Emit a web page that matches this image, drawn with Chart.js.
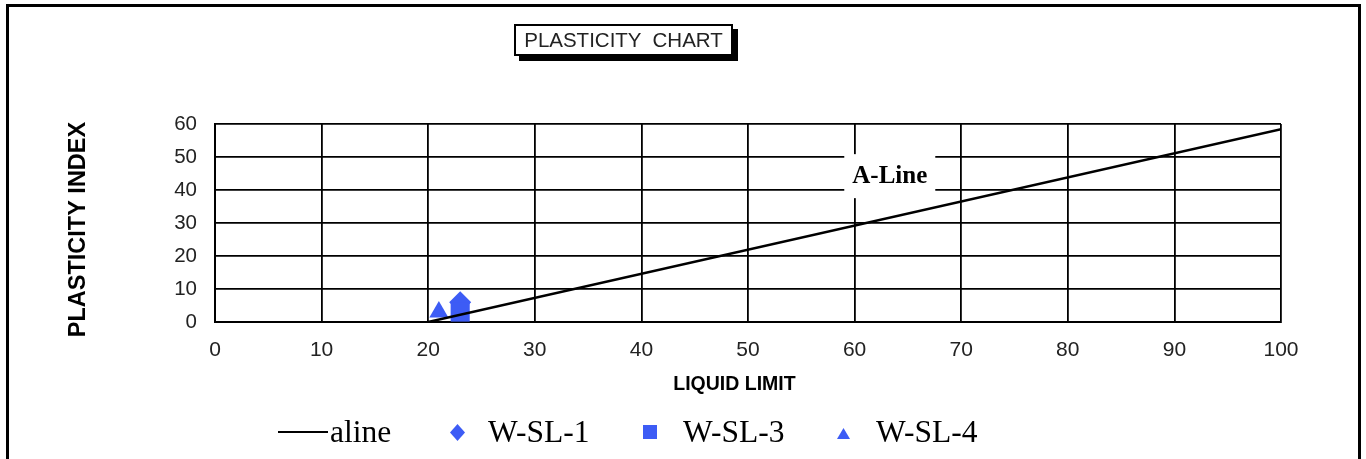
<!DOCTYPE html>
<html>
<head>
<meta charset="utf-8">
<script src="https://cdn.jsdelivr.net/npm/chart.js@4"></script>
<style>
  html, body { margin: 0; padding: 0; background: #fff; }
  #wrap { position: relative; width: 1366px; height: 459px; overflow: hidden; }
  #frame { position: absolute; left: 6px; top: 4px; width: 1355px; height: 470px;
    border: 3px solid #000; border-bottom: none; box-sizing: border-box; }
  #chart { position: absolute; left: 0; top: 0; }
  #title { position: absolute; left: 514px; top: 24px; width: 219px; height: 32px; box-sizing: border-box;
    border: 2px solid #000; background: #fff; box-shadow: 5px 5px 0 #000;
    font: 20.5px "Liberation Sans", Arial, sans-serif; color: #222; text-align: center; line-height: 28px;
    white-space: pre; }
  #legend { position: absolute; left: 0; top: 410px; width: 1366px; height: 44px;
    font: 31.5px "Liberation Serif", "Times New Roman", serif; color: #000; }
  .item { position: absolute; top: 0; line-height: 44px; white-space: nowrap; }
  .mk { position: absolute; }
</style>
</head>
<body>
<div id="wrap">
  <div id="frame"></div>
  <canvas id="chart" width="1366" height="459"></canvas>
  <div id="title">PLASTICITY  CHART</div>
  <div id="legend"></div>
</div>
<script>
// data
const alineLL = [20, 100];
const alinePI = [0, 58.4];
const sl1 = [{ x: 23, y: 6 }];
const sl3 = [{ x: 23, y: 3 }];
const sl4 = [{ x: 21, y: 3 }];
const xTicks = [0, 10, 20, 30, 40, 50, 60, 70, 80, 90, 100];
const yTicks = [0, 10, 20, 30, 40, 50, 60];
const aLineLabel = { x: 63.3, y: 44.5, text: 'A-Line' };

const blue = '#3d5cf5';

// A-Line label with white box, drawn through the scales
const aLinePlugin = {
  id: 'aLineLabel',
  afterDatasetsDraw(chart) {
    const { ctx, scales } = chart;
    const px = scales.x.getPixelForValue(aLineLabel.x);
    const py = scales.y.getPixelForValue(aLineLabel.y);
    ctx.save();
    ctx.font = 'bold 25px "Liberation Serif", "Times New Roman", serif';
    const w = ctx.measureText(aLineLabel.text).width;
    ctx.fillStyle = '#fff';
    ctx.fillRect(px - w / 2 - 8, py - 21, w + 16, 44);
    ctx.fillStyle = '#000';
    ctx.textAlign = 'center';
    ctx.textBaseline = 'middle';
    ctx.fillText(aLineLabel.text, px, py + 1);
    ctx.restore();
  }
};

const chart = new Chart(document.getElementById('chart'), {
  type: 'scatter',
  data: {
    datasets: [
      { label: 'aline', data: alineLL.map((x, i) => ({ x, y: alinePI[i] })), showLine: true,
        borderColor: '#000', borderWidth: 2.5, pointRadius: 0, order: 1 },
      { label: 'W-SL-1', data: sl1, pointStyle: 'rectRot', pointRadius: 11,
        backgroundColor: blue, borderColor: blue, borderWidth: 0, order: 4 },
      { label: 'W-SL-3', data: sl3, pointStyle: 'rect', pointRadius: 13.5,
        backgroundColor: blue, borderColor: blue, borderWidth: 0, order: 3 },
      { label: 'W-SL-4', data: sl4, pointStyle: 'triangle', pointRadius: 11,
        backgroundColor: blue, borderColor: blue, borderWidth: 0, order: 2 }
    ]
  },
  options: {
    responsive: false,
    animation: false,
    layout: { padding: { top: 124, right: 85, left: 0, bottom: 0 } },
    plugins: { legend: { display: false }, tooltip: { enabled: false } },
    scales: {
      x: {
        type: 'linear', min: 0, max: 100,
        afterBuildTicks: s => { s.ticks = xTicks.map(v => ({ value: v })); },
        afterFit: s => { s.height = 137; },
        grid: { color: '#000', lineWidth: 1.8, drawTicks: false },
        border: { color: '#000', width: 2 },
        ticks: { color: '#222', padding: 16, font: { family: '"Liberation Sans", Arial, sans-serif', size: 21 } },
        title: { display: true, text: 'LIQUID LIMIT     ', color: '#000',
          font: { family: '"Liberation Sans", Arial, sans-serif', size: 19.5, weight: 'bold' },
          padding: { top: 0, bottom: 63 } }
      },
      y: {
        type: 'linear', min: 0, max: 60,
        afterBuildTicks: s => { s.ticks = yTicks.map(v => ({ value: v })); },
        afterFit: s => { s.width = 215; },
        grid: { color: '#000', lineWidth: 1.8, drawTicks: false },
        border: { color: '#000', width: 2 },
        ticks: { color: '#222', padding: 18, font: { family: '"Liberation Sans", Arial, sans-serif', size: 20.5 } },
        title: { display: true, text: 'PLASTICITY INDEX  ', color: '#000',
          font: { family: '"Liberation Sans", Arial, sans-serif', size: 23.5, weight: 'bold' },
          padding: { top: 64, bottom: 0 } }
      }
    }
  },
  plugins: [aLinePlugin]
});

// html legend
const legendItems = [
  { text: 'aline', mark: 'line', left: 278 },
  { text: 'W-SL-1', mark: 'diamond', left: 450 },
  { text: 'W-SL-3', mark: 'square', left: 643 },
  { text: 'W-SL-4', mark: 'triangle', left: 837 }
];
const legendEl = document.getElementById('legend');
legendItems.forEach(it => {
  const d = document.createElement('div');
  d.className = 'item';
  d.style.left = it.left + 'px';
  let mk = '', textLeft = 0;
  if (it.mark === 'line') {
    mk = '<svg class="mk" style="left:0;top:20px" width="50" height="4"><line x1="0" y1="2" x2="50" y2="2" stroke="#000" stroke-width="2"/></svg>';
    textLeft = 52;
  } else if (it.mark === 'diamond') {
    mk = '<svg class="mk" style="left:0;top:14px" width="15" height="17"><polygon points="7.5,0 15,8.5 7.5,17 0,8.5" fill="' + blue + '"/></svg>';
    textLeft = 38;
  } else if (it.mark === 'square') {
    mk = '<svg class="mk" style="left:0;top:15px" width="14" height="14"><rect width="14" height="14" fill="' + blue + '"/></svg>';
    textLeft = 40;
  } else {
    mk = '<svg class="mk" style="left:0;top:18px" width="13" height="11"><polygon points="6.5,0 13,11 0,11" fill="' + blue + '"/></svg>';
    textLeft = 39;
  }
  d.innerHTML = mk + '<span style="position:absolute;left:' + textLeft + 'px;top:0">' + it.text + '</span>';
  legendEl.appendChild(d);
});
</script>
</body>
</html>
